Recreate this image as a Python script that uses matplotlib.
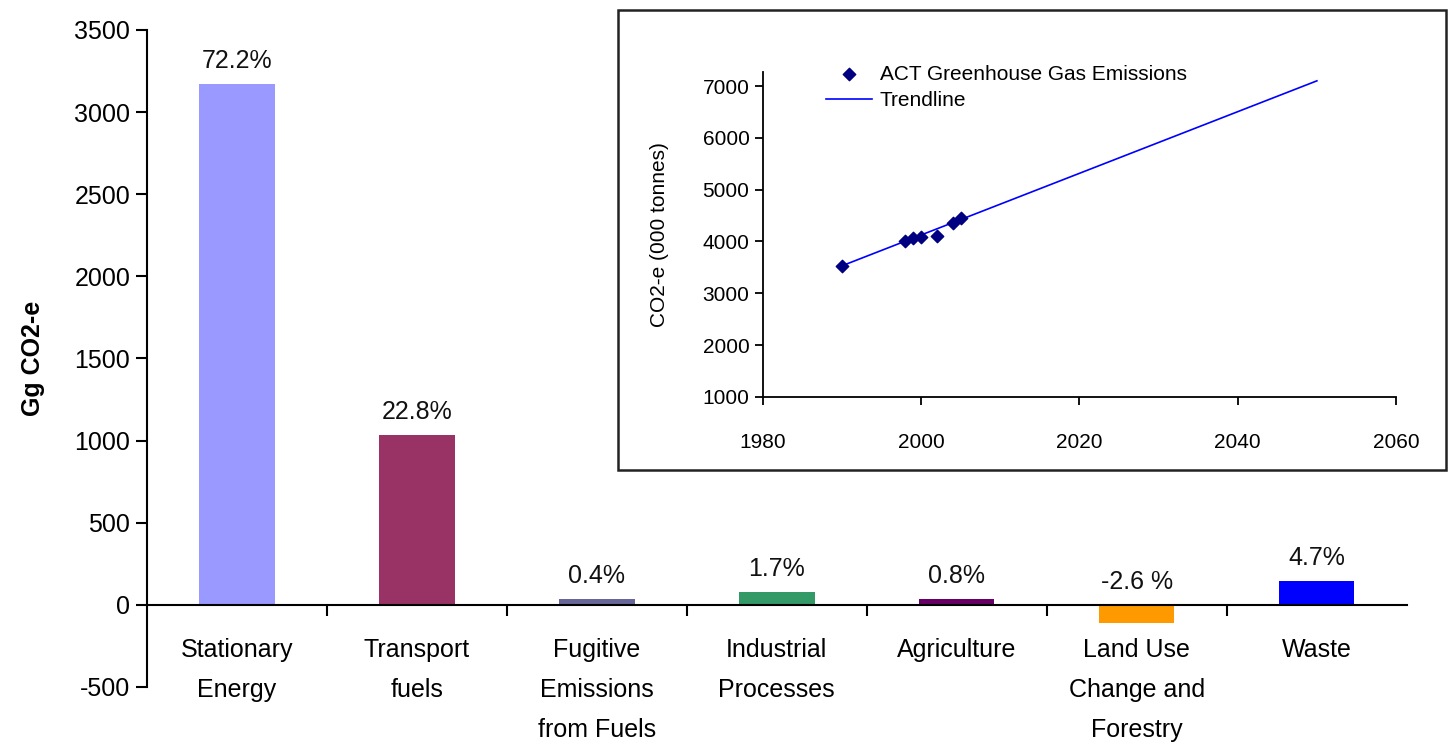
import numpy as np
import matplotlib.pyplot as plt
from matplotlib.patches import Rectangle

plt.rcParams['font.family'] = ['Liberation Sans', 'DejaVu Sans']
plt.rcParams['axes.unicode_minus'] = False

# main bar chart data (Gg CO2-e)
categories = ['Stationary\nEnergy', 'Transport\nfuels', 'Fugitive\nEmissions\nfrom Fuels',
              'Industrial\nProcesses', 'Agriculture', 'Land Use\nChange and\nForestry', 'Waste']
values = [3170, 1035, 37, 80, 35, -110, 145]
pct_labels = ['72.2%', '22.8%', '0.4%', '1.7%', '0.8%', '-2.6 %', '4.7%']
bar_colors = ['#9999FF', '#993366', '#666699', '#339966', '#660066', '#FF9900', '#0000FF']

# inset data
years = [1990, 1998, 1999, 2000, 2002, 2004, 2005]
emissions = [3520, 4010, 4060, 4080, 4110, 4360, 4450]
trend_years = [1990, 2050]
trend_vals = [3530, 7100]

fig = plt.figure(figsize=(14.5, 7.48), dpi=100)
ax = fig.add_axes([0.1014, 0.0816, 0.8686, 0.8784])

x = np.arange(len(categories))
ax.bar(x, values, width=0.42, color=bar_colors, zorder=2)
for xi, v, lab in zip(x, values, pct_labels):
    ax.annotate(lab, (xi, max(v, 0)), xytext=(0, 8), textcoords='offset points',
                ha='center', va='bottom', fontsize=18, color='#111111')

ax.set_xlim(-0.5, len(categories) - 0.5)
ax.set_ylim(-500, 3500)
ax.set_yticks(np.arange(-500, 3501, 500))
ax.tick_params(axis='y', labelsize=18, length=8, width=1.5, direction='out', pad=4)
ax.set_ylabel('Gg CO2-e', fontsize=18, fontweight='bold', labelpad=21)

ax.spines['top'].set_visible(False)
ax.spines['right'].set_visible(False)
ax.spines['left'].set_linewidth(1.5)
ax.spines['bottom'].set_position(('data', 0))
ax.spines['bottom'].set_linewidth(1.5)
ax.set_xticks(x)
ax.set_xticklabels(categories, fontsize=18, linespacing=1.85)
ax.set_xticks(np.arange(0.5, len(categories) - 0.5, 1), minor=True)
ax.tick_params(axis='x', which='major', length=0, pad=24)
ax.tick_params(axis='x', which='minor', length=8, width=1.5, direction='out')
for t in ax.get_xticklabels():
    t.set_verticalalignment('top')

# inset frame
fig.patches.append(Rectangle((0.426, 0.372), 0.571, 0.6146, transform=fig.transFigure,
                             facecolor='white', edgecolor='#222222', linewidth=1.8, zorder=3))

ins = fig.add_axes([0.526, 0.4693, 0.4368, 0.4344], zorder=5)
ins.patch.set_alpha(0)
ins.plot(trend_years, trend_vals, color='#0000FF', linewidth=1.2, label='Trendline', zorder=2)
ins.scatter(years, emissions, marker='D', s=40, color='#000080', zorder=3,
            label='ACT Greenhouse Gas Emissions')
ins.set_xlim(1980, 2060)
ins.set_ylim(1000, 7270)
ins.set_xticks([1980, 2000, 2020, 2040, 2060])
ins.set_yticks(np.arange(1000, 7001, 1000))
ins.tick_params(labelsize=15, length=6, width=1.3, direction='out')
ins.tick_params(axis='x', pad=20)
ins.spines['top'].set_visible(False)
ins.spines['right'].set_visible(False)
ins.spines['left'].set_linewidth(1.3)
ins.spines['bottom'].set_linewidth(1.3)
ins.set_ylabel('CO2-e (000 tonnes)', fontsize=15, labelpad=24)

h, l = ins.get_legend_handles_labels()
ins.legend(h[::-1], l[::-1], loc='upper left', bbox_to_anchor=(0.07, 1.08), frameon=False,
           fontsize=15, handlelength=2.2, handletextpad=0.4, labelspacing=0.35)

fig.savefig('out.png', dpi=100, facecolor='white')
